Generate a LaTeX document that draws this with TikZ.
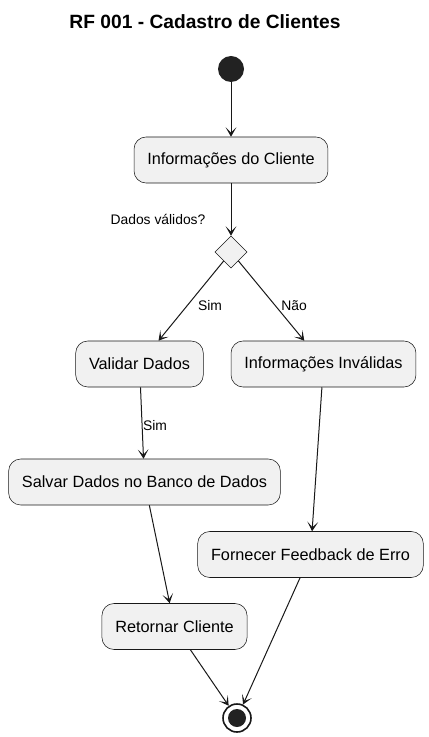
\documentclass[tikz,border=0pt]{standalone}
\usepackage{fontspec}
\setmainfont{Liberation Sans}
\usetikzlibrary{arrows.meta,shapes.geometric}
\definecolor{actfill}{HTML}{F1F1F1}
\definecolor{actline}{HTML}{181818}
\definecolor{dotfill}{HTML}{222222}
\tikzset{
  act/.style={draw=actline, fill=actfill, rounded corners=9pt, minimum height=34.5pt,
    inner xsep=10pt, font=\fontsize{12.2}{14}\selectfont},
  choice/.style={diamond, draw=actline, fill=actfill, minimum size=24pt, inner sep=0pt},
  startdot/.style={circle, fill=dotfill, minimum size=19.5pt, inner sep=0pt},
  enddot/.style={circle, draw=actline, line width=1.2pt, fill=white, minimum size=21pt,
    inner sep=0pt, path picture={\fill[dotfill] (path picture bounding box.center) circle (6.75pt);}},
  lbl/.style={font=\fontsize{10.4}{12}\selectfont},
  title/.style={font=\bfseries\fontsize{14.4}{16}\selectfont},
  flow/.style={-{Stealth[length=7pt,width=8pt,inset=4pt]}, line width=0.75pt, draw=actline}
}
\begin{document}
\begin{tikzpicture}[x=0.75pt, y=-0.75pt]
      \useasboundingbox (0,0) rectangle (428,737);
      \draw
        (205,22) node[title] (title){RF 001 - Cadastro de Clientes}
        (231,69) node[startdot] (start){}
        (231,160) node[act] (info){Informações do Cliente}
        (231,252) node[choice] (check){}
        (139.5,364) node[act] (validar){Validar Dados}
        (323.5,364) node[act] (invalid){Informações Inválidas}
        (144.5,482) node[act] (salvar){Salvar Dados no Banco de Dados}
        (310.5,554.5) node[act] (feedback){Fornecer Feedback de Erro}
        (174.5,626.5) node[act] (retornar){Retornar Cliente}
        (237,718) node[enddot] (stop){};
      \draw
        (158,219) node[lbl] (question){Dados válidos?}
        (210,306) node[lbl] (simA){Sim}
        (294,306) node[lbl] (nao){Não}
        (155,426) node[lbl] (simB){Sim};
      \begin{scope}[flow]
        \draw (start) to (info);
        \draw (info) to (check);
        \draw (check) to (validar);
        \draw (check) to (invalid);
        \draw (validar) to (salvar);
        \draw (invalid) to (feedback);
        \draw (salvar) to (retornar);
        \draw (retornar) to (stop);
        \draw (feedback) to (stop);
      \end{scope}
    \end{tikzpicture}
\end{document}
